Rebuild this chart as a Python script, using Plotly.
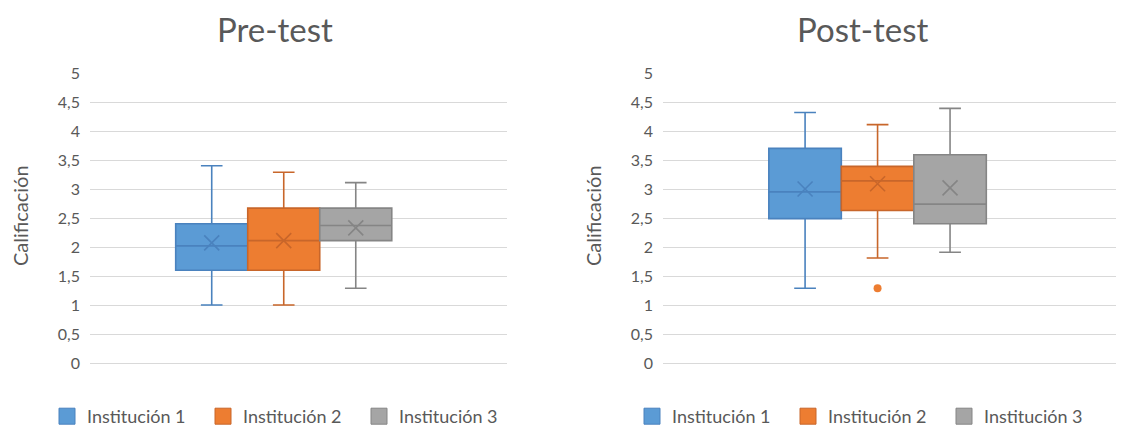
import plotly.graph_objects as go

categories = ["Institución 1", "Institución 2", "Institución 3"]

pre_lower = [1.0, 1.0, 1.29]
pre_q1 = [1.6, 1.6, 2.11]
pre_median = [2.02, 2.11, 2.37]
pre_q3 = [2.4, 2.67, 2.67]
pre_upper = [3.4, 3.29, 3.11]
pre_mean = [2.07, 2.11, 2.33]

post_lower = [1.29, 1.81, 1.91]
post_q1 = [2.49, 2.63, 2.4]
post_median = [2.95, 3.14, 2.74]
post_q3 = [3.7, 3.39, 3.59]
post_upper = [4.32, 4.11, 4.39]
post_mean = [3.0, 3.09, 3.02]
post_outliers = [[], [1.29], []]

titles = ["Pre-test", "Post-test"]
y_ticks = [0, 0.5, 1, 1.5, 2, 2.5, 3, 3.5, 4, 4.5, 5]

fill_colors = ["#5B9BD5", "#ED7D31", "#A5A5A5"]
line_colors = ["#4A82BE", "#C8662A", "#858585"]

FONT = "Lato"
TXT = "#595959"

W, H = 1124, 427
OFF = 8          # page body margin
MB = 45
PH = H - MB      # paper height (inside margins)


def py(screen_y):
    """screen pixel row -> paper fraction"""
    return (PH - (screen_y - OFF)) / PH


def px(screen_x):
    """screen pixel column -> paper fraction"""
    return (screen_x - OFF) / W


fig = go.Figure()

panels = [
    dict(lower=pre_lower, q1=pre_q1, med=pre_median, q3=pre_q3, upper=pre_upper,
         mean=pre_mean, out=[[], [], []], xa="x", ya="y", legend="legend"),
    dict(lower=post_lower, q1=post_q1, med=post_median, q3=post_q3, upper=post_upper,
         mean=post_mean, out=post_outliers, xa="x2", ya="y2", legend="legend2"),
]

for p in panels:
    for i, name in enumerate(categories):
        pos = i + 1
        fig.add_trace(go.Box(
            name=name, x=[pos], q1=[p["q1"][i]], median=[p["med"][i]], q3=[p["q3"][i]],
            lowerfence=[p["lower"][i]], upperfence=[p["upper"][i]],
            width=1, whiskerwidth=0.3, showlegend=False,
            fillcolor=fill_colors[i], line=dict(color=line_colors[i], width=1.6),
            xaxis=p["xa"], yaxis=p["ya"], hoverinfo="skip",
        ))
    for i, name in enumerate(categories):
        pos = i + 1
        fig.add_trace(go.Scatter(
            x=[pos], y=[p["mean"][i]], mode="markers", showlegend=False,
            marker=dict(symbol="x-thin-open", size=15, color=line_colors[i],
                        line=dict(color=line_colors[i], width=1.6)),
            xaxis=p["xa"], yaxis=p["ya"], hoverinfo="skip",
        ))
        if p["out"][i]:
            fig.add_trace(go.Scatter(
                x=[pos] * len(p["out"][i]), y=p["out"][i], mode="markers", showlegend=False,
                marker=dict(symbol="circle", size=8, color=fill_colors[i]),
                xaxis=p["xa"], yaxis=p["ya"], hoverinfo="skip",
            ))
    # legend swatches (square markers, like the Excel legend)
    for i, name in enumerate(categories):
        fig.add_trace(go.Scatter(
            x=[None], y=[None], mode="markers", name=name, showlegend=True,
            marker=dict(symbol="square", size=16, color=fill_colors[i],
                        line=dict(color=line_colors[i], width=1)),
            xaxis=p["xa"], yaxis=p["ya"], legend=p["legend"], hoverinfo="skip",
        ))

yaxis_common = dict(
    range=[0, 5], tickvals=y_ticks, showgrid=True, gridcolor="#D9D9D9", gridwidth=1,
    zeroline=True, zerolinecolor="#D9D9D9", zerolinewidth=1, showline=False,
    tickfont=dict(family=FONT, size=16, color=TXT), ticklabelstandoff=9,
    fixedrange=True, automargin=False,
    domain=[py(363), py(73)],
)
xaxis_common = dict(showticklabels=False, showgrid=False, zeroline=False, showline=False,
                    ticks="", fixedrange=True, automargin=False)

legend_common = dict(orientation="h", font=dict(family=FONT, size=18, color=TXT),
                     entrywidth=111, entrywidthmode="pixels", yref="container",
                     yanchor="bottom", y=-0.032,
                     xanchor="left", bgcolor="rgba(0,0,0,0)")

fig.update_layout(
    width=W, height=H,
    margin=dict(l=0, r=0, t=0, b=MB, autoexpand=False),
    paper_bgcolor="white", plot_bgcolor="white",
    separators=",.",
    showlegend=True,
    xaxis=dict(domain=[px(90), px(507)], range=[-0.69, 5.1], anchor="y", **xaxis_common),
    yaxis=dict(anchor="x", **yaxis_common),
    xaxis2=dict(domain=[px(663), 1.0], range=[-0.96, 5.51], anchor="y2", **xaxis_common),
    yaxis2=dict(anchor="x2", **yaxis_common),
    legend=dict(x=39 / W, **legend_common),
    legend2=dict(x=624 / W, **legend_common),
    annotations=[
        dict(text=titles[0], x=px(275), y=py(29), xref="paper", yref="paper",
             xanchor="center", yanchor="middle",
             showarrow=False, font=dict(family=FONT, size=33, color=TXT)),
        dict(text=titles[1], x=px(862), y=py(29), xref="paper", yref="paper",
             xanchor="center", yanchor="middle",
             showarrow=False, font=dict(family=FONT, size=33, color=TXT)),
        dict(text="Calificación", x=px(20), y=py(216), xref="paper", yref="paper",
             xanchor="center", yanchor="middle",
             showarrow=False, textangle=-90, font=dict(family=FONT, size=20, color=TXT)),
        dict(text="Calificación", x=px(593), y=py(216), xref="paper", yref="paper",
             xanchor="center", yanchor="middle",
             showarrow=False, textangle=-90, font=dict(family=FONT, size=20, color=TXT)),
    ],
)

fig.write_html("out.html")
